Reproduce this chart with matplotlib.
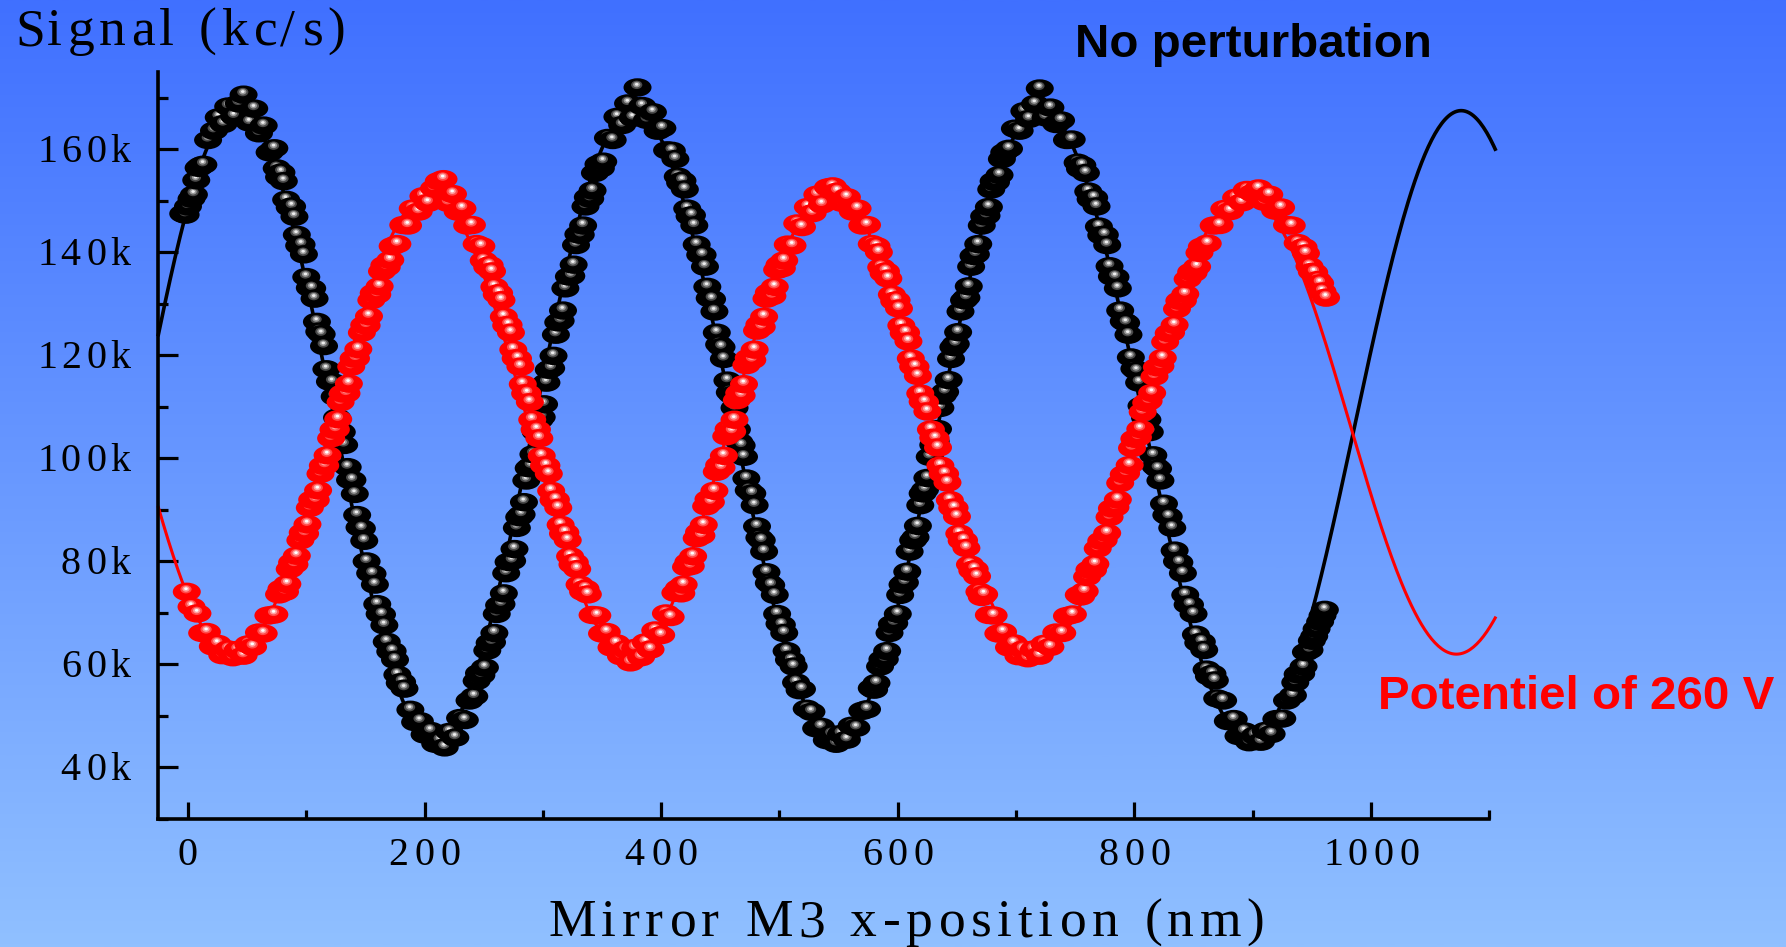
import numpy as np
import matplotlib
matplotlib.use("Agg")
import matplotlib.pyplot as plt
from matplotlib.path import Path
from matplotlib.collections import PathCollection
from matplotlib.colors import LinearSegmentedColormap
from matplotlib.ticker import MultipleLocator
from matplotlib.transforms import Affine2D, IdentityTransform
from matplotlib.font_manager import findfont, FontProperties
from matplotlib.ft2font import FT2Font

W, H, DPI = 1786, 947, 100

# ---------------- measured signal (kc/s, in thousands) ----------------
black_x = [-4, 0, 5, 9, 13, 17, 22, 26, 30, 34, 39, 43,
           47, 52, 56, 60, 64, 69, 73, 77, 81, 86, 90, 94, 98, 103, 107, 111, 115, 120, 124, 128,
           132, 137, 141, 145, 149, 154, 158, 162, 166, 171, 175, 179, 183, 188, 192, 196, 200, 205, 209, 213,
           217, 221, 226, 230, 234, 238, 242, 246, 251, 255, 259, 263, 267, 271, 276, 280, 284, 288, 292, 297,
           301, 305, 309, 313, 317, 322, 326, 330, 334, 338, 342, 347, 351, 355, 359, 363, 367, 372, 376, 380,
           384, 388, 393, 397, 401, 405, 409, 414, 418, 422, 426, 430, 435, 439, 443, 447, 451, 456, 460, 464,
           468, 472, 477, 481, 485, 489, 493, 498, 502, 506, 510, 514, 519, 523, 527, 531, 535, 540, 544, 548,
           552, 557, 561, 565, 570, 574, 578, 582, 587, 591, 595, 600, 604, 608, 613, 617, 621, 625, 630, 634,
           638, 643, 647, 651, 656, 660, 664, 668, 673, 677, 681, 686, 690, 694, 699, 703, 707, 711, 716, 720,
           725, 729, 734, 738, 743, 747, 752, 756, 761, 766, 770, 775, 779, 784, 788, 793, 797, 802, 806, 811,
           816, 820, 825, 829, 834, 838, 843, 847, 852, 857, 861, 866, 870, 875, 879, 884, 888, 893, 897, 902,
           907, 911, 916, 920, 925, 929, 934, 938, 943, 948, 952, 957, 961]
black_y = [147.5, 148.9, 151.2, 156.4, 157.0, 161.8, 163.6, 166.2, 164.9, 168.3, 166.4, 168.9,
           170.6, 165.2, 167.9, 163.1, 164.6, 159.4, 160.2, 154.6, 153.8, 148.7, 146.9, 141.3, 139.6, 133.1,
           131.0, 124.6, 121.8, 114.9, 112.0, 105.4, 102.6, 95.8, 93.1, 86.6, 84.0, 77.7, 75.5, 69.8, 67.6,
           62.5, 60.9, 56.4, 55.3, 51.2, 48.8, 49.0, 46.4, 47.1, 44.6, 45.2,
           43.9, 46.9, 45.8, 49.6, 49.2, 53.0, 53.8, 58.3, 59.4, 64.2, 66.1, 71.5, 73.8, 79.9, 82.4, 88.6,
           91.5, 98.1, 100.8, 107.4, 110.5, 117.2, 119.9, 126.4, 128.7, 135.3, 137.6, 143.5, 145.2, 150.7,
           152.0, 157.1, 157.6, 162.2, 161.8, 166.3, 164.7, 168.9, 166.1, 172.0,
           168.4, 165.7, 167.2, 163.6, 164.1, 159.8, 159.7, 154.7, 153.9, 148.5, 147.2, 141.5, 139.5, 133.3,
           130.9, 124.4, 121.6, 115.1, 112.3, 105.6, 102.5, 96.1, 93.2, 86.8, 84.1, 77.9, 75.4, 69.8, 67.7,
           62.6, 60.8, 56.5, 55.2, 51.4, 50.8, 47.6, 47.9, 45.3, 46.4, 44.6,
           46.5, 45.4, 48.1, 47.7, 51.0, 51.3, 55.4, 56.4, 61.0, 62.6, 67.8, 69.8, 75.5, 78.0, 84.1, 86.9,
           93.2, 96.2, 102.6, 105.7, 112.2, 115.2, 121.6, 124.5, 130.7, 133.4, 139.3, 141.6, 147.0, 148.8,
           153.8, 155.0, 159.4, 160.1, 164.0, 163.6, 167.4, 165.9, 168.8, 171.8,
           166.2, 168.1, 164.9, 165.6, 161.8, 161.9, 157.4, 156.9, 151.8, 150.6, 145.0, 143.4, 137.3, 135.2,
           128.7, 126.3, 119.6, 117.0, 110.2, 107.5, 100.6, 98.0, 91.2, 88.7, 82.1, 79.8, 73.5, 71.6, 65.8,
           64.4, 59.0, 58.2, 53.4, 53.0, 49.0, 49.4, 46.1, 47.0, 44.9, 46.2,
           45.0, 47.1, 46.5, 49.4, 49.5, 53.0, 54.0, 58.1, 59.6, 62.8, 65.5, 68.3, 70.6]

# interleaved readings on the steep flanks
black_x2 = [-2, 3, 7, 11,
            75, 79, 83, 88, 92, 96, 100, 105, 109, 113, 117, 122, 126, 130, 135, 139, 143, 147, 151, 156,
            160, 164, 168, 173, 177, 181,
            244, 248, 253, 257, 261, 265, 269, 274, 278, 282, 286, 290, 294, 299, 303, 307, 311, 315, 319,
            324, 328, 332, 336, 340, 344, 349,
            412, 416, 420, 424, 428, 433, 437, 441, 445, 449, 453, 458, 462, 466, 470, 474, 479, 483, 487,
            491, 496, 500, 504, 508, 512, 517,
            580, 585, 589, 593, 597, 602, 606, 610, 615, 619, 623, 627, 632, 636, 640, 645, 649, 653, 658,
            662, 666, 671, 675, 679, 683, 688,
            754, 759, 763, 768, 772, 777, 781, 786, 791, 795, 800, 804, 809, 813, 818, 822, 827, 832, 836,
            841, 845, 850, 854, 859, 863, 868,
            936, 941, 945, 950, 954, 959]
black_y2 = [147.3, 150.4, 154.0, 156.8,
            156.3, 155.5, 150.2, 148.9, 143.4, 141.5, 135.2, 133.0, 126.5, 124.1, 117.3, 114.8, 107.9, 105.1,
            98.3, 95.8, 89.0, 86.4, 80.0, 77.6, 71.7, 69.7, 64.4, 62.6, 58.0, 56.6,
            56.8, 57.9, 62.7, 64.3, 69.8, 71.7, 77.7, 80.1, 86.5, 89.1, 95.7, 98.5, 105.1, 108.0, 114.7,
            117.5, 124.0, 126.7, 133.0, 135.4, 141.4, 143.4, 148.9, 150.4, 155.4, 156.3,
            158.1, 153.5, 152.2, 147.0, 145.2, 139.5, 137.2, 131.1, 128.5, 122.1, 119.3, 112.8, 109.8,
            103.2, 100.3, 93.8, 90.9, 84.6, 81.9, 75.8, 73.5, 67.9, 66.1, 60.9, 59.6, 55.0,
            55.1, 59.6, 61.0, 66.1, 68.0, 73.5, 75.9, 81.9, 84.7, 90.9, 93.9, 100.3, 103.3, 109.8, 112.9,
            119.3, 122.2, 128.5, 131.2, 137.2, 139.6, 145.2, 147.1, 152.2, 153.6, 158.1,
            156.2, 155.4, 150.3, 148.9, 143.3, 141.4, 135.3, 133.0, 126.6, 124.0, 117.4, 114.7, 107.9,
            105.1, 98.4, 95.7, 89.0, 86.5, 80.0, 77.7, 71.6, 69.8, 64.2, 62.8, 57.7, 56.9,
            56.5, 58.2, 62.4, 64.6, 66.9, 69.5]

red_x = [-1, 3, 8, 12, 16, 21, 25, 29, 34, 38,
         42, 47, 51, 55, 60, 64, 68, 73, 77, 82, 86, 90, 95, 99, 103, 108, 112, 116, 121, 125,
         129, 134, 138, 142, 147, 151, 155, 160, 164, 168, 173, 177, 182, 186, 190, 195, 199, 203, 208, 212,
         216, 220, 224, 228, 232, 236, 240, 244, 248, 253, 257, 261, 265, 269, 273, 277, 281, 285, 289, 293,
         297, 301, 305, 309, 313, 317, 321, 325, 329, 334, 338, 342, 346, 350, 354, 358, 362, 366, 370, 374,
         378, 383, 387, 391, 395, 400, 404, 408, 412, 417, 421, 425, 430, 434, 438, 442, 447, 451, 455, 460,
         464, 468, 472, 477, 481, 485, 489, 494, 498, 502, 507, 511, 515, 519, 524, 528, 532, 536, 541, 545,
         549, 553, 557, 562, 566, 570, 574, 578, 582, 586, 590, 595, 599, 603, 607, 611, 615, 619, 623, 628,
         632, 636, 640, 644, 648, 652, 656, 661, 665, 669, 673, 677, 681, 685, 689, 694, 698, 702, 706, 710,
         715, 720, 724, 729, 734, 739, 743, 748, 753, 758, 762, 767, 772, 777, 781, 786, 791, 796, 800, 805,
         810, 815, 819, 824, 829, 834, 838, 843, 848, 853, 857, 862, 867, 872, 876, 881, 886, 891, 895, 900,
         905, 910, 914, 919, 924, 929, 933, 938, 943, 948, 952, 957, 962]
red_y = [74.1, 71.2, 69.9, 66.1, 66.3, 63.5, 64.0, 61.8, 62.9, 61.4,
         62.8, 61.7, 63.9, 63.4, 66.2, 66.0, 69.5, 69.7, 73.6, 74.1, 78.5, 79.4, 84.1, 85.4, 90.4, 91.9,
         97.0, 98.6, 103.9, 105.6, 110.9, 112.6, 117.8, 119.4, 124.4, 125.8, 130.7, 131.8, 136.3, 137.1,
         141.2, 141.6, 145.3, 145.2, 148.5, 147.9, 150.9, 149.6, 152.4, 153.8,
         154.2, 149.6, 151.3, 147.9, 148.5, 145.2, 145.3, 141.6, 141.2, 137.1, 136.3, 131.8, 130.7, 125.8,
         124.4, 119.4, 117.8, 112.6, 110.9, 105.6, 103.9, 98.6, 97.0, 91.9, 90.4, 85.4, 84.1, 79.4, 78.5,
         74.1, 73.6, 69.6, 69.5, 66.0, 66.3, 63.3, 64.1, 61.6, 62.9, 60.4,
         63.2, 61.4, 64.3, 62.9, 66.6, 65.7, 69.9, 69.2, 73.9, 73.8, 78.9, 79.1, 84.5, 85.0, 90.7, 91.5,
         97.4, 98.2, 104.3, 105.2, 111.3, 112.2, 118.1, 119.1, 124.8, 125.5, 131.0, 131.5, 136.6, 136.9,
         141.5, 141.3, 145.6, 144.9, 148.8, 147.6, 151.2, 149.3, 152.6, 152.8,
         151.8, 149.6, 150.7, 147.9, 148.5, 145.2, 145.3, 141.6, 141.2, 137.1, 136.3, 131.8, 130.7, 125.8,
         124.4, 119.4, 117.8, 112.6, 110.9, 105.6, 103.9, 98.6, 97.0, 91.9, 90.4, 85.4, 84.1, 79.4, 78.5,
         74.1, 73.6, 69.6, 69.5, 66.0, 66.3, 63.3, 64.1, 61.6, 62.9, 61.2,
         62.9, 61.7, 64.0, 63.4, 66.2, 66.1, 69.4, 69.7, 73.5, 74.2, 78.4, 79.5, 84.0, 85.5, 90.3, 92.0,
         96.9, 98.7, 103.8, 105.7, 110.8, 112.7, 117.7, 119.5, 124.3, 125.9, 130.6, 131.9, 136.2, 137.2,
         141.1, 141.7, 145.2, 145.3, 148.4, 148.0, 150.6, 149.7, 152.1, 151.5,
         152.4, 149.8, 151.2, 148.1, 148.7, 145.3, 145.2, 141.8, 141.0, 137.3, 136.1, 134.0, 131.2]

red_x2 = [79, 84, 88, 92, 97, 101, 105, 110, 114, 118, 123, 127, 131, 136, 140, 144, 149, 153, 157, 162,
          166, 171,
          250, 255, 259, 263, 267, 271, 275, 279, 283, 287, 291, 295, 299, 303, 307, 311, 315, 319, 323,
          327, 331, 336,
          415, 419, 423, 427, 432, 436, 440, 445, 449, 453, 457, 462, 466, 470, 474, 479, 483, 487, 491,
          496, 500, 504,
          584, 588, 592, 597, 601, 605, 609, 613, 617, 621, 625, 630, 634, 638, 642, 646, 650, 654, 658,
          663, 667, 671,
          755, 760, 765, 769, 774, 779, 784, 788, 793, 798, 803, 807, 812, 817, 822, 826, 831, 836, 841,
          845, 850, 855,
          945, 950, 955, 959]
red_y2 = [74.7, 75.6, 79.8, 81.1, 85.6, 87.2, 92.0, 93.8, 98.6, 100.6, 105.6, 107.6, 112.6, 114.5, 119.4,
          121.2, 125.9, 127.6, 132.1, 133.4, 137.5, 138.5,
          138.4, 137.5, 133.3, 132.1, 127.5, 125.9, 121.1, 119.4, 114.4, 112.6, 107.5, 105.6, 100.5, 98.6,
          93.7, 92.0, 87.1, 85.6, 81.0, 79.8, 75.5, 74.7,
          74.8, 75.5, 79.9, 81.0, 85.7, 87.1, 92.1, 93.7, 98.7, 100.5, 105.7, 107.5, 112.7, 114.4, 119.5,
          121.1, 126.0, 127.5, 132.2, 133.3, 137.6, 138.4,
          140.0, 135.9, 134.9, 130.5, 129.1, 124.3, 122.7, 117.8, 116.0, 111.0, 109.1, 104.0, 102.1, 97.0,
          95.3, 90.4, 88.7, 84.0, 82.6, 78.2, 77.1, 73.1,
          73.2, 77.0, 78.3, 82.5, 84.1, 88.6, 90.5, 95.2, 97.1, 102.0, 104.1, 109.0, 111.1, 115.9, 117.9,
          122.6, 124.4, 129.0, 130.6, 134.8, 136.0, 139.9,
          139.8, 136.2, 134.6, 132.4]

# ---------------- fitted fringe model: y0 + A*cos(2*pi*(a*u + b*u^2)), u = x - xc ----------------
fit_black = dict(y0=106.5, A=61.0, xc=42.0, a=0.00303, b=-1.25e-7)
fit_red = dict(y0=106.5, A=-44.5, xc=38.0, a=0.00303, b=-1.25e-7)
fit_range = (-25, 1105)

x_major = [0, 200, 400, 600, 800, 1000]
y_major = [40, 60, 80, 100, 120, 140, 160]

label_black = "No perturbation"
label_red = "Potentiel of 260 V"
ylabel = "Signal (kc/s)"
xlabel = "Mirror M3 x-position (nm)"


def fringe(x, p):
    u = x - p["xc"]
    return p["y0"] + p["A"] * np.cos(2 * np.pi * (p["a"] * u + p["b"] * u ** 2))


fig = plt.figure(figsize=(W / DPI, H / DPI), dpi=DPI)

# vertical blue gradient background
bg = fig.add_axes([0, 0, 1, 1], zorder=-10)
bg.axis("off")
grad = np.linspace(0, 1, 512)[:, None]
bg.imshow(grad, aspect="auto", extent=[0, 1, 0, 1], origin="upper",
          cmap=LinearSegmentedColormap.from_list("sky", ["#4070ff", "#90c0ff"]))

left, right, top, bottom = 158.4, 1489.3, 72.0, 819.0
ax = fig.add_axes([left / W, 1 - bottom / H, (right - left) / W, (bottom - top) / H])
ax.set_facecolor("none")
ax.set_xlim(-25, 1100)
ax.set_ylim(30, 175)
for s in ("top", "right"):
    ax.spines[s].set_visible(False)
for s in ("left", "bottom"):
    ax.spines[s].set_linewidth(2.6)
ax.xaxis.set_major_locator(MultipleLocator(200))
ax.xaxis.set_minor_locator(MultipleLocator(100))
ax.yaxis.set_major_locator(MultipleLocator(20))
ax.yaxis.set_minor_locator(MultipleLocator(10))
ax.tick_params(which="both", direction="in", width=2.3, labelleft=False, labelbottom=False)
ax.xaxis.set_tick_params(which="major", length=12.5)
ax.xaxis.set_tick_params(which="minor", length=6.5)
ax.yaxis.set_tick_params(which="major", length=14.5)
ax.yaxis.set_tick_params(which="minor", length=7.2)

# fitted curves
xf = np.linspace(fit_range[0], fit_range[1], 800)
ax.plot(xf, fringe(xf, fit_black), color="black", lw=2.6, clip_on=False, zorder=2)
ax.plot(xf, fringe(xf, fit_red), color="#ff0000", lw=2.2, clip_on=False, zorder=2)


# shaded "bead" markers: body ellipse + layered highlight, drawn point by point
def bead_paths(px_per_pt=DPI / 72.0):
    k = 1.0 / px_per_pt
    circ = Path.unit_circle()
    body = circ.transformed(Affine2D().scale(14.0 * k, 9.2 * k))
    halo = circ.transformed(Affine2D().scale(5.6 * k, 4.2 * k).translate(-0.8 * k, 2.6 * k))
    mid = circ.transformed(Affine2D().scale(3.6 * k, 2.8 * k).translate(-0.8 * k, 2.9 * k))
    core = circ.transformed(Affine2D().scale(1.8 * k, 1.4 * k).translate(-0.8 * k, 3.1 * k))
    return [body, halo, mid, core]


def add_beads(xs, ys, colors, z):
    xs = np.asarray(xs, float)
    ys = np.asarray(ys, float)
    order = np.argsort(xs, kind="stable")
    paths = bead_paths()
    pts = np.column_stack([xs[order], ys[order]])
    offs = np.repeat(pts, len(paths), axis=0)
    coll = PathCollection(paths, sizes=[1.0], offsets=offs, offset_transform=ax.transData,
                          transform=IdentityTransform(), facecolors=colors,
                          edgecolors="none", linewidths=0, zorder=z)
    ax.add_collection(coll)


add_beads(black_x + black_x2, black_y + black_y2, ["#000000", "#4a4a4a", "#989898", "#eeeeee"], 3)
add_beads(red_x + red_x2, red_y + red_y2, ["#ff0000", "#ff4c4c", "#ffa0a0", "#ffffff"], 4)


# letter-spaced serif text
def glyph_metrics(text, family, size_pt, weight="normal"):
    path = findfont(FontProperties(family=family, weight=weight))
    font = FT2Font(path, hinting_factor=1)
    font.set_size(size_pt, DPI)
    adv, lsb = [], []
    for ch in text:
        g = font.load_char(ord(ch))
        adv.append(g.linearHoriAdvance / 65536.0)
        lsb.append(g.horiBearingX / 64.0)
    return adv, lsb


def tracked(text, x_px, y_px, size_pt, track_px, ha="left", family="Liberation Serif", color="black"):
    adv, lsb = glyph_metrics(text, family, size_pt)
    total = sum(adv) + track_px * (len(text) - 1)
    pen = x_px - {"left": 0, "center": total / 2, "right": total}[ha]
    for ch, a, b in zip(text, adv, lsb):
        if ch != " ":
            fig.text((pen + b) / W, 1 - y_px / H, ch, fontsize=size_pt, family=family,
                     color=color, ha="left", va="baseline")
        pen += a + track_px


def data_to_px(x, y):
    dx, dy = ax.transData.transform((x, y))
    return dx, H - dy


tick_pt = 28.8
for v in x_major:
    px, _ = data_to_px(v, 30)
    tracked(str(v), px - 2, 865, tick_pt, 6.0, ha="center")
for v in y_major:
    _, py = data_to_px(-25, v)
    tracked(f"{v}k", 130, py + 13, tick_pt, 5.5, ha="right")

tracked(ylabel, 11, 45, 38.5, 5.3, ha="left")
tracked(xlabel, 905, 936, 38.5, 6.0, ha="center")

fig.text(1075 / W, 1 - 57 / H, label_black, fontsize=34.2, family="Liberation Sans",
         weight="bold", color="black", ha="left", va="baseline")
fig.text(1378 / W, 1 - 709 / H, label_red, fontsize=34.2, family="Liberation Sans",
         weight="bold", color="#ff0000", ha="left", va="baseline")

fig.savefig("out.png", dpi=DPI)
